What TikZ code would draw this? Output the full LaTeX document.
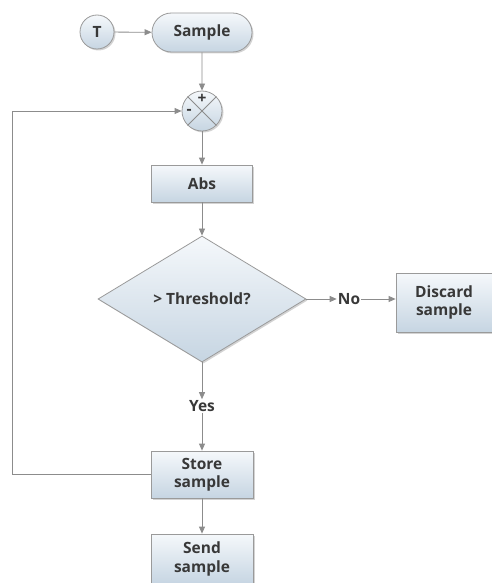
\documentclass[tikz,border=0pt]{standalone}
\usepackage{fontspec}
\setmainfont{Open Sans}
\usetikzlibrary{shapes.geometric,shapes.misc,arrows.meta,shadows}
\definecolor{edgegray}{HTML}{9A9A9A}
\definecolor{linegray}{HTML}{8C8C8C}
\definecolor{txt}{HTML}{383838}
\definecolor{topc}{HTML}{F5F8FB}
\definecolor{botc}{HTML}{C6D5E2}
\tikzset{
  base/.style={draw=edgegray, line width=0.8pt, top color=topc, bottom color=botc,
    text=txt, font=\fontsize{15.5}{18.5}\selectfont\bfseries, align=center,
    drop shadow={shadow xshift=1.5pt, shadow yshift=-1.5pt, opacity=0.35}},
  boxnode/.style={base, rectangle, inner sep=0pt},
  conn/.style={draw=linegray, line width=0.8pt, -{Triangle[width=6pt,length=7pt]}},
  plain/.style={draw=linegray, line width=0.8pt},
  lbl/.style={text=txt, font=\fontsize{15.5}{18.5}\selectfont\bfseries, inner sep=1pt}
}
\begin{document}
\begin{tikzpicture}[x=1pt,y=-1pt]
\useasboundingbox (0,0) rectangle (491,583);
\node[base, circle, minimum size=34pt, inner sep=0pt] (T) at (97,32) {T};
\node[base, rounded rectangle, minimum width=100pt, minimum height=39pt, inner sep=0pt] (S) at (202,32.5) {Sample};
\node[base, circle, minimum size=40pt, inner sep=0pt] (sum) at (202,111) {};
\draw[plain] (sum.north west) -- (sum.south east);
\draw[plain] (sum.north east) -- (sum.south west);
\node[lbl, inner sep=0pt] (plus) at (202,99) {+};
\node[lbl, inner sep=0pt] (minus) at (189,112) {-};
\node[boxnode, minimum width=101pt, minimum height=37pt] (abs) at (202,183.5) {Abs};
\node[base, diamond, minimum width=208pt, minimum height=126pt, inner sep=0pt] (dec) at (202,299) {> Threshold?};
\node[lbl] (no) at (349,299) {No};
\node[boxnode, minimum width=96pt, minimum height=59pt] (disc) at (444,302.5) {Discard\\sample};
\node[lbl] (yes) at (202,406) {Yes};
\node[boxnode, minimum width=102pt, minimum height=47pt] (store) at (202,474.5) {Store\\sample};
\node[boxnode, minimum width=102pt, minimum height=50pt] (send) at (202,559) {Send\\sample};
\coordinate (c1) at (12,474.5);
\coordinate (c2) at (12,111);
\path[conn] (T) -- (S);
\path[conn] (S) -- (sum);
\path[conn] (sum) -- (abs);
\path[conn] (abs) -- (dec);
\path[conn] (dec.east) -- (no.west);
\path[conn] (no.east) -- (no.east -| disc.west);
\path[conn] (dec.south) -- (yes.north);
\path[conn] (yes.south) -- (store.north);
\path[conn] (store) -- (send);
\path[conn] (store.west) -- (c1) -- (c2) -- (sum.west);
\end{tikzpicture}
\end{document}
